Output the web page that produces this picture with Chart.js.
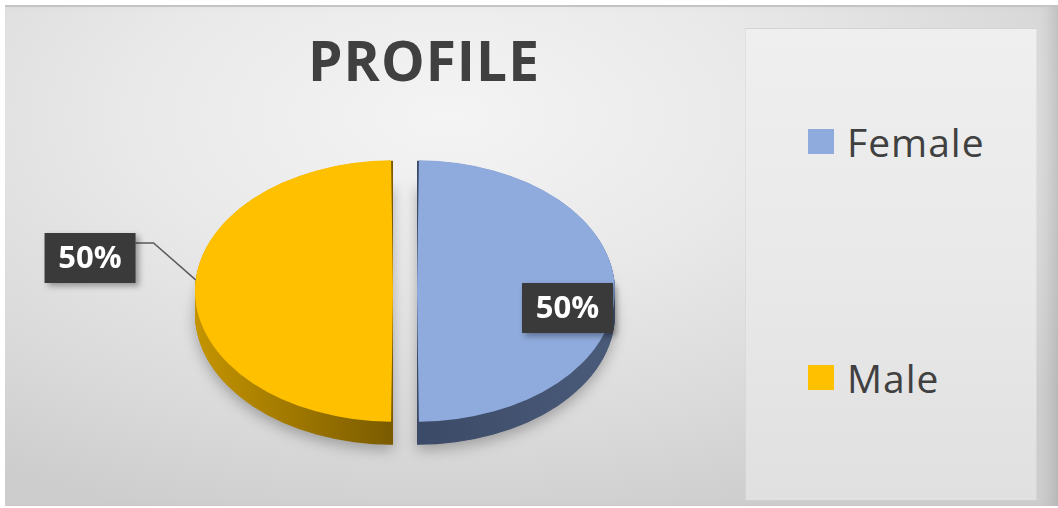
<!DOCTYPE html>
<html lang="en">
<head>
  <meta charset="UTF-8" />
  <title>PROFILE</title>
  <script src="https://cdn.jsdelivr.net/npm/chart.js"></script>
  <style>
    body {
      margin: 0;
      width: 1058px;
      height: 508px;
      background: #ffffff;
      font-family: "Open Sans", sans-serif;
      overflow: hidden;
    }
    .frame {
      position: absolute;
      left: 5px;
      top: 5px;
      width: 1053px;
      height: 499px;
      border-top: 2px solid #c4c4c4;
      background: radial-gradient(ellipse 75% 85% at 42% 22%, #f4f4f4 0%, #e9e9e9 40%, #dadada 75%, #cdcdcd 100%);
      box-shadow: inset -14px 0 14px -8px rgba(0,0,0,0.12);
    }
    .legend-panel {
      position: absolute;
      left: 745px;
      top: 28px;
      width: 292px;
      height: 472px;
      background: linear-gradient(180deg, #efefef 0%, #e9e9e9 50%, #e0e0e0 100%);
      border: 1px solid rgba(0,0,0,0.05);
      box-sizing: border-box;
    }
    h1 {
      position: absolute;
      left: 0;
      top: 32px;
      width: 848px;
      margin: 0;
      text-align: center;
      font-size: 55px;
      line-height: 55px;
      font-weight: bold;
      color: #404040;
      letter-spacing: 1px;
    }
    #chartBox {
      position: absolute;
      left: 0;
      top: 0;
      width: 745px;
      height: 508px;
    }
    .legend-item {
      position: absolute;
      left: 808px;
      display: flex;
      align-items: center;
      font-size: 39px;
      line-height: 39px;
      letter-spacing: 1px;
      color: #404040;
    }
    .swatch {
      width: 26px;
      height: 25px;
      margin-right: 13px;
    }
  </style>
</head>
<body>
  <div class="frame"></div>
  <div class="legend-panel"></div>
  <h1>PROFILE</h1>
  <div id="chartBox"><canvas id="profileChart"></canvas></div>
  <div id="legend"></div>

  <script>
    const categories = ['Female', 'Male'];
    const values = [50, 50];

    const sliceColors = ['#8faadc', '#ffc000'];
    // side wall gradients (cut edge -> outer edge)
    const sideColors = [['#3b4a66', '#4a5b7a'], ['#7a5b00', '#c49400']];
    const SQUASH = 0.66;   // tilt of the pie
    const DEPTH = 23;      // thickness in px
    // label boxes, relative to the slice centre (fraction of radius, px)
    const labelSpots = [
      { fx: 0.76, dy: 17, leader: false },
      { fx: -1.53, dy: -33, leader: true }
    ];

    function sliceGeom(arc) {
      const o = (arc.options.offset || 0) / 4;
      const mid = (arc.startAngle + arc.endAngle) / 2;
      return {
        x: arc.x + Math.cos(mid) * o,
        y: arc.y + Math.sin(mid) * o,
        r: arc.outerRadius + o,
        mid: mid
      };
    }

    const pie3d = {
      id: 'pie3d',
      beforeDatasetsDraw(chart) {
        const ctx = chart.ctx;
        const arcs = chart.getDatasetMeta(0).data;
        const cy = arcs[0].y;
        ctx.save();
        ctx.translate(0, cy);
        ctx.scale(1, SQUASH);
        ctx.translate(0, -cy);

        arcs.forEach((arc, i) => {
          const g = sliceGeom(arc);
          const right = Math.cos(g.mid) > 0;
          const grad = right
            ? ctx.createLinearGradient(g.x, 0, g.x + g.r, 0)
            : ctx.createLinearGradient(g.x, 0, g.x - g.r, 0);
          grad.addColorStop(0, sideColors[i][0]);
          grad.addColorStop(1, sideColors[i][1]);
          for (let d = DEPTH; d > 0; d -= 0.5) {
            ctx.save();
            if (d === DEPTH) {
              ctx.shadowColor = 'rgba(0,0,0,0.28)';
              ctx.shadowBlur = 14;
              ctx.shadowOffsetY = 5;
            }
            ctx.fillStyle = grad;
            ctx.beginPath();
            ctx.moveTo(g.x, g.y + d / SQUASH);
            ctx.arc(g.x, g.y + d / SQUASH, g.r, arc.startAngle, arc.endAngle);
            ctx.closePath();
            ctx.fill();
            ctx.restore();
          }
        });
      },
      afterDatasetsDraw(chart) {
        const ctx = chart.ctx;
        ctx.restore();

        const arcs = chart.getDatasetMeta(0).data;
        const total = values.reduce((a, b) => a + b, 0);
        arcs.forEach((arc, i) => {
          const g = sliceGeom(arc);
          const spot = labelSpots[i];
          const bx = g.x + spot.fx * g.r;
          const by = g.y + spot.dy;
          const w = 91, h = 50;

          if (spot.leader) {
            const a = Math.PI + 0.085;
            const ex = g.x + Math.cos(a) * g.r;
            const ey = g.y + Math.sin(a) * g.r * SQUASH;
            ctx.save();
            ctx.strokeStyle = '#5a5a5a';
            ctx.lineWidth = 1.5;
            ctx.beginPath();
            ctx.moveTo(bx + w / 2, by - 15);
            ctx.lineTo(bx + w / 2 + 18, by - 15);
            ctx.lineTo(ex, ey);
            ctx.stroke();
            ctx.restore();
          }

          ctx.save();
          ctx.shadowColor = 'rgba(0,0,0,0.35)';
          ctx.shadowBlur = 6;
          ctx.shadowOffsetX = 3;
          ctx.shadowOffsetY = 3;
          ctx.fillStyle = '#3a3a3a';
          ctx.fillRect(bx - w / 2, by - h / 2, w, h);
          ctx.restore();

          ctx.save();
          ctx.fillStyle = '#ffffff';
          ctx.font = 'bold 31px "Open Sans"';
          ctx.textAlign = 'center';
          ctx.textBaseline = 'middle';
          ctx.fillText(Math.round(values[i] / total * 100) + '%', bx, by + 1);
          ctx.restore();
        });
      }
    };

    const chart = new Chart(document.getElementById('profileChart'), {
      type: 'pie',
      data: {
        labels: categories,
        datasets: [{
          data: values,
          backgroundColor: sliceColors,
          borderWidth: 0,
          offset: 48,
          radius: 186,
          clip: false
        }]
      },
      options: {
        responsive: true,
        maintainAspectRatio: false,
        animation: false,
        events: [],
        layout: { padding: { left: 65, right: 0, top: 74, bottom: 0 } },
        plugins: {
          legend: { display: false },
          tooltip: { enabled: false }
        }
      },
      plugins: [pie3d]
    });

    // legend built from the chart's own legend items
    const legendBox = document.getElementById('legend');
    chart.options.plugins.legend.labels.generateLabels(chart).forEach((item, i) => {
      const div = document.createElement('div');
      div.className = 'legend-item';
      div.style.top = (122 + i * 236) + 'px';
      div.innerHTML = `<span class="swatch" style="background:${item.fillStyle}"></span>${item.text}`;
      legendBox.appendChild(div);
    });
  </script>
</body>
</html>
